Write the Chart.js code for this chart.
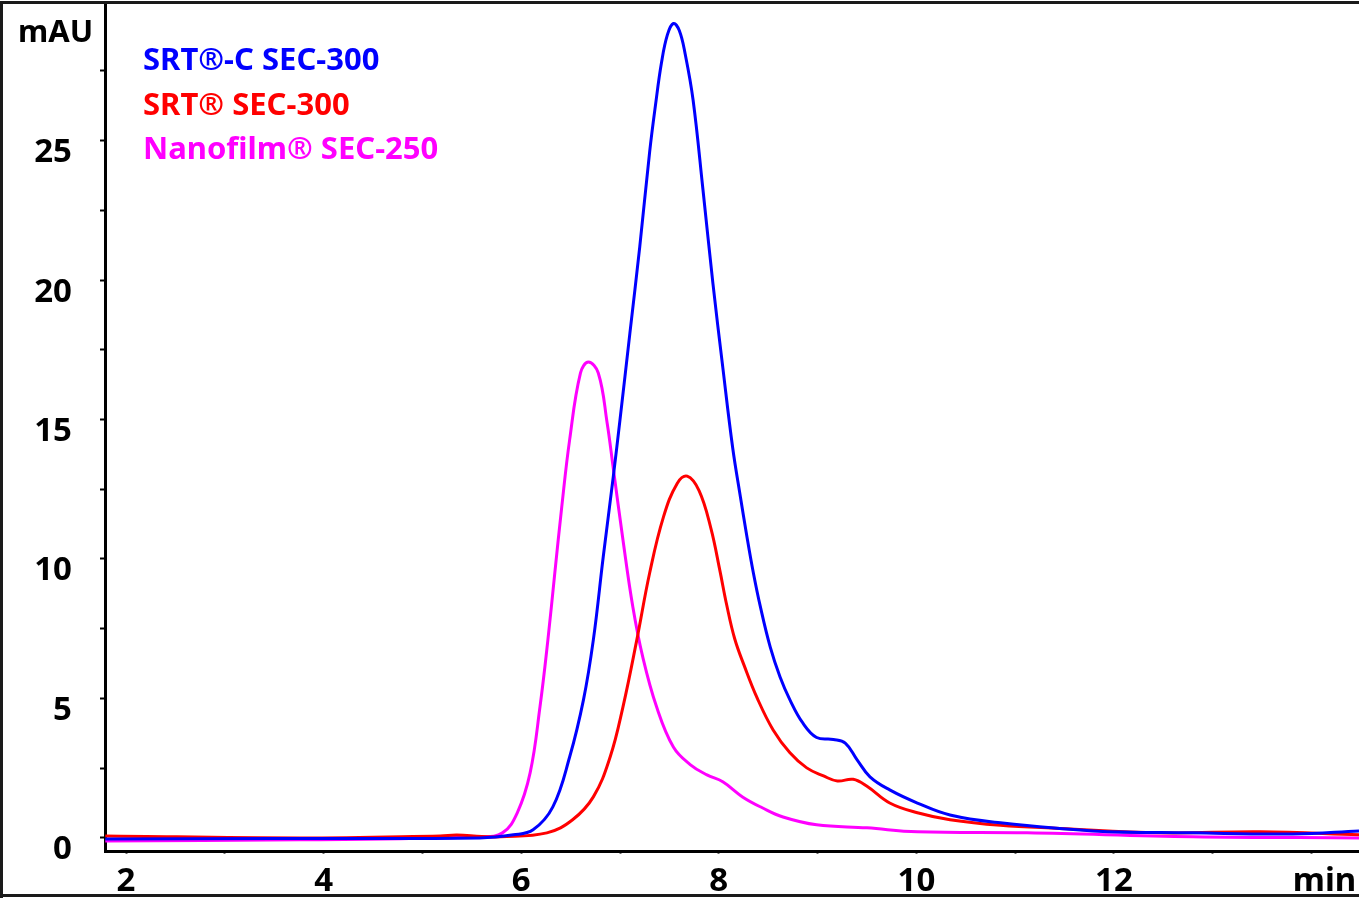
<!DOCTYPE html>
<html>
<head>
<meta charset="utf-8">
<script src="https://cdn.jsdelivr.net/npm/chart.js@4"></script>
<style>
  html, body { margin: 0; padding: 0; background: #fff; }
  #chart { display: block; }
</style>
</head>
<body>
<canvas id="chart" width="1359" height="898"></canvas>
<script>
// series labels and colours
const seriesNames = ["SRT®-C SEC-300", "SRT® SEC-300", "Nanofilm® SEC-250"];
const seriesColors = ["#0000ff", "#ff0000", "#ff00ff"];

// retention time (min) / absorbance (mAU)
const blueT = [1.79, 3.5, 5.58, 5.92, 6.12, 6.32, 6.49, 6.63, 6.73, 6.83, 6.93, 7.0, 7.1, 7.2, 7.3, 7.36, 7.42, 7.48, 7.54, 7.6, 7.66, 7.74, 7.84, 7.94, 8.04, 8.14, 8.22, 8.28, 8.35, 8.42, 8.52, 8.62, 8.72, 8.85, 8.99, 9.16, 9.28, 9.4, 9.53, 9.73, 10.01, 10.34, 10.85, 11.79, 12.8, 13.81, 14.48];
const blueY = [-0.04, -0.02, 0.0, 0.11, 0.29, 1.11, 2.9, 4.95, 7.1, 10.07, 12.9, 15.0, 18.1, 21.2, 24.6, 26.3, 27.8, 28.8, 29.2, 28.95, 28.1, 26.45, 23.23, 19.89, 16.88, 14.0, 12.2, 10.9, 9.5, 8.3, 6.85, 5.77, 4.95, 4.12, 3.6, 3.53, 3.4, 2.8, 2.19, 1.72, 1.25, 0.82, 0.54, 0.25, 0.18, 0.14, 0.25];

const redT = [1.79, 3.76, 5.18, 5.35, 5.6, 5.79, 6.26, 6.52, 6.73, 6.9, 7.03, 7.17, 7.3, 7.44, 7.58, 7.68, 7.8, 7.92, 8.01, 8.08, 8.16, 8.26, 8.39, 8.55, 8.72, 8.89, 9.06, 9.2, 9.36, 9.5, 9.73, 10.01, 10.34, 10.85, 11.45, 12.47, 13.48, 14.48];
const redY = [0.07, 0.0, 0.07, 0.1, 0.05, 0.04, 0.18, 0.65, 1.47, 2.9, 4.7, 7.1, 9.5, 11.51, 12.72, 12.97, 12.45, 11.1, 9.6, 8.35, 7.15, 6.15, 5.0, 3.87, 3.05, 2.51, 2.22, 2.04, 2.1, 1.85, 1.25, 0.9, 0.65, 0.45, 0.34, 0.18, 0.22, 0.11];

const magT = [1.79, 3.76, 5.58, 5.81, 5.96, 6.09, 6.19, 6.27, 6.34, 6.41, 6.49, 6.6, 6.68, 6.78, 6.87, 6.93, 7.03, 7.13, 7.23, 7.37, 7.54, 7.71, 7.88, 8.04, 8.24, 8.44, 8.65, 8.99, 9.5, 10.01, 11.12, 12.8, 14.48];
const magY = [-0.11, -0.07, 0.04, 0.18, 0.9, 2.33, 4.7, 7.1, 9.5, 11.86, 14.27, 16.67, 17.06, 16.67, 14.87, 13.3, 10.68, 8.28, 6.49, 4.7, 3.26, 2.63, 2.26, 2.01, 1.47, 1.08, 0.75, 0.47, 0.36, 0.22, 0.18, 0.04, 0.0];

// axis ranges and ticks
const xMin = 1.787, xMax = 14.48;
const yMin = -0.47, yMax = 29.9;
const xLabelTicks = [2, 4, 6, 8, 10, 12];
const yLabelTicks = [0, 5, 10, 15, 20, 25];

const FONT = "'Noto Sans', 'DejaVu Sans', sans-serif";

function toPoints(ts, ys) {
  return ts.map((t, i) => ({ x: t, y: ys[i] }));
}

const seriesData = [toPoints(blueT, blueY), toPoints(redT, redY), toPoints(magT, magY)];

const frameAndLegend = {
  id: "frameAndLegend",
  afterDraw(chart) {
    const ctx = chart.ctx;
    ctx.save();
    // outer frame
    ctx.strokeStyle = "#1a1a1a";
    ctx.lineWidth = 3;
    ctx.beginPath();
    ctx.moveTo(1.5, 898);
    ctx.lineTo(1.5, 2.5);
    ctx.lineTo(1359, 2.5);
    ctx.moveTo(0, 895.5);
    ctx.lineTo(1359, 895.5);
    ctx.stroke();

    // unit label
    ctx.fillStyle = "#000";
    ctx.font = "bold 31px " + FONT;
    ctx.textBaseline = "alphabetic";
    ctx.textAlign = "left";
    ctx.fillText("mAU", 18, 42);

    // legend text
    const baselines = [70, 115, 159];
    chart.data.datasets.forEach((ds, i) => {
      ctx.fillStyle = ds.borderColor;
      ctx.fillText(ds.label, 143, baselines[i]);
    });
    ctx.restore();
  },
};

new Chart(document.getElementById("chart"), {
  type: "line",
  data: {
    datasets: seriesNames.map((name, i) => ({
      label: name,
      data: seriesData[i],
      borderColor: seriesColors[i],
      borderWidth: 3,
      pointRadius: 0,
      fill: false,
      tension: 0.4,
    })),
  },
  options: {
    responsive: false,
    animation: false,
    layout: { padding: { top: 4, left: 0, right: 0, bottom: 0 } },
    plugins: {
      legend: { display: false },
      tooltip: { enabled: false },
    },
    scales: {
      x: {
        type: "linear",
        min: xMin,
        max: xMax,
        afterFit: (s) => {
          s.height = 47;
          s.paddingLeft = 0;
          s.paddingRight = 0;
        },
        border: { color: "#000", width: 3 },
        grid: { drawOnChartArea: false, tickLength: 3, tickColor: "#666", tickWidth: 2 },
        ticks: {
          stepSize: 1,
          includeBounds: false,
          autoSkip: false,
          maxRotation: 0,
          padding: 8,
          color: "#000",
          font: { family: FONT, weight: "bold", size: 33 },
          callback: (v) => {
            if (v === 14) return "   min";
            return xLabelTicks.includes(v) ? String(v) : "";
          },
        },
      },
      y: {
        min: yMin,
        max: yMax,
        afterFit: (s) => {
          s.width = 105;
          s.paddingTop = 0;
          s.paddingBottom = 0;
        },
        border: { color: "#000", width: 3 },
        grid: { drawOnChartArea: false, tickLength: 5, tickColor: "#000", tickWidth: 2 },
        ticks: {
          stepSize: 2.5,
          includeBounds: false,
          autoSkip: false,
          padding: 28,
          labelOffset: 12,
          color: "#000",
          font: { family: FONT, weight: "bold", size: 33 },
          callback: (v) => (yLabelTicks.includes(v) ? String(v) : ""),
        },
      },
    },
  },
  plugins: [frameAndLegend],
});
</script>
</body>
</html>
